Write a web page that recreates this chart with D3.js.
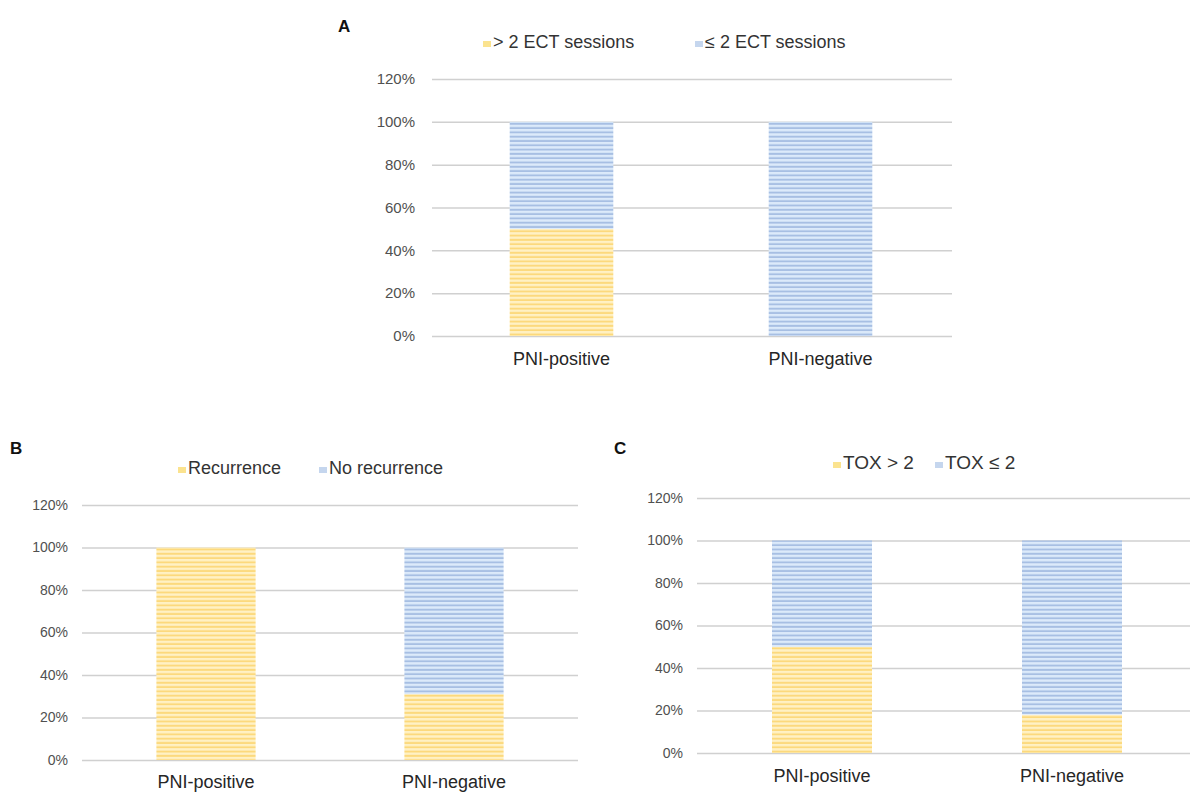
<!DOCTYPE html>
<html>
    <head>
        <meta charset="utf-8">
        <title>PNI and outcomes</title>
        <script src="https://cdn.jsdelivr.net/npm/d3@7"></script>
        <style>
            body { margin: 0; background: #fff; }
            text { font-family: "Liberation Sans", Arial, sans-serif; }
        </style>
    </head>
    <body>
        <script>
            // data
            var categories = ["PNI-positive", "PNI-negative"];
            var yTicks = [0, 20, 40, 60, 80, 100, 120];

            var ectHigh = [50, 0];
            var ectLow = [50, 100];
            var ectLegend = ["> 2 ECT sessions", "\u2264 2 ECT sessions"];

            var recurrence = [100, 31];
            var noRecurrence = [0, 69];
            var recLegend = ["Recurrence", "No recurrence"];

            var toxHigh = [50, 18];
            var toxLow = [50, 82];
            var toxLegend = ["TOX > 2", "TOX \u2264 2"];

            var svg = d3.select("body").append("svg")
                .attr("width", 1190)
                .attr("height", 792);

            var defs = svg.append("defs");
            function stripes(id, base, line) {
                var p = defs.append("pattern")
                    .attr("id", id)
                    .attr("patternUnits", "userSpaceOnUse")
                    .attr("width", 8).attr("height", 4.3);
                p.append("rect").attr("width", 8).attr("height", 4.3).attr("fill", base);
                p.append("rect").attr("y", 2.4).attr("width", 8).attr("height", 1.9).attr("fill", line);
            }
            stripes("yel", "#fff1c4", "#fcd97c");
            stripes("blu", "#dceafa", "#a7bfe3");

            function drawPanel(opt) {
                var g = svg.append("g");

                var x = d3.scaleBand()
                    .domain(categories)
                    .range([opt.left, opt.right])
                    .paddingInner(0.6)
                    .paddingOuter(0.3);

                var y = d3.scaleLinear()
                    .domain([0, 120])
                    .range([opt.bottom, opt.top]);

                // gridlines + labels
                var yAxis = d3.axisLeft(y)
                    .tickValues(yTicks)
                    .tickSize(-(opt.gridEnd - opt.left))
                    .tickFormat(function(d) { return d + "%"; });

                var ya = g.append("g")
                    .attr("transform", "translate(" + opt.left + ",0)")
                    .call(yAxis);
                ya.select(".domain").remove();
                ya.selectAll(".tick line").attr("stroke", "#d0d0d0").attr("stroke-width", 1.5);
                ya.selectAll(".tick text")
                    .attr("fill", "#505050")
                    .attr("font-size", opt.tickSize)
                    .attr("x", -(opt.left - opt.labelRight));

                var stack = categories.map(function(c, i) {
                    return { cat: c, a: opt.first[i], b: opt.second[i] };
                });

                g.append("g").selectAll("rect.a")
                    .data(stack).enter().append("rect")
                    .attr("x", function(d) { return x(d.cat); })
                    .attr("width", x.bandwidth())
                    .attr("y", function(d) { return y(d.a); })
                    .attr("height", function(d) { return y(0) - y(d.a); })
                    .attr("fill", "url(#yel)");

                g.append("g").selectAll("rect.b")
                    .data(stack).enter().append("rect")
                    .attr("x", function(d) { return x(d.cat); })
                    .attr("width", x.bandwidth())
                    .attr("y", function(d) { return y(d.a + d.b); })
                    .attr("height", function(d) { return y(d.a) - y(d.a + d.b); })
                    .attr("fill", "url(#blu)");

                var xa = g.append("g")
                    .attr("transform", "translate(0," + opt.bottom + ")")
                    .call(d3.axisBottom(x).tickSize(0).tickPadding(opt.catPad));
                xa.select(".domain").remove();
                xa.selectAll(".tick text")
                    .attr("fill", "#262626")
                    .attr("font-size", opt.catSize);

                // panel letter
                g.append("text")
                    .attr("x", opt.letterX).attr("y", opt.letterY)
                    .attr("font-weight", "bold")
                    .attr("font-size", 17)
                    .attr("fill", "#111")
                    .text(opt.letter);

                // legend
                opt.legend.forEach(function(name, i) {
                    var lx = opt.legendX[i];
                    g.append("rect")
                        .attr("x", lx).attr("y", opt.legendY - 7)
                        .attr("width", 8).attr("height", 6)
                        .attr("fill", i === 0 ? "#fbe38f" : "#c5d6ee");
                    g.append("text")
                        .attr("x", lx + 10).attr("y", opt.legendY)
                        .attr("font-size", opt.legendSize)
                        .attr("fill", "#333")
                        .text(name);
                });
            }

            drawPanel({
                letter: "A", letterX: 338, letterY: 32,
                left: 432, right: 950, gridEnd: 952, labelRight: 415,
                top: 79, bottom: 336,
                first: ectHigh, second: ectLow,
                legend: ectLegend, legendX: [483, 695], legendY: 48,
                tickSize: 15, catSize: 18, catPad: 16, legendSize: 18
            });

            drawPanel({
                letter: "B", letterX: 10, letterY: 454,
                left: 82, right: 578, gridEnd: 578, labelRight: 68,
                top: 505, bottom: 760,
                first: recurrence, second: noRecurrence,
                legend: recLegend, legendX: [178, 319], legendY: 474,
                tickSize: 14, catSize: 18, catPad: 15, legendSize: 18
            });

            drawPanel({
                letter: "C", letterX: 614, letterY: 454,
                left: 697, right: 1197, gridEnd: 1190, labelRight: 683,
                top: 498, bottom: 753,
                first: toxHigh, second: toxLow,
                legend: toxLegend, legendX: [833, 935], legendY: 469,
                tickSize: 14, catSize: 18, catPad: 16, legendSize: 19
            });
        </script>
    </body>
</html>
